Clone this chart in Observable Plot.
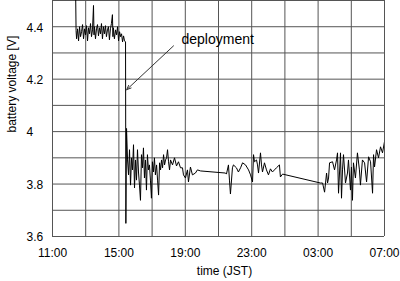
<!DOCTYPE html>
<html><head><meta charset="utf-8">
<script src="https://cdn.jsdelivr.net/npm/d3@7"></script>
<script src="https://cdn.jsdelivr.net/npm/@observablehq/plot@0.6"></script>
<style>body{margin:0;background:#fff}</style>
</head><body><div id="chart"></div>
<script>
// hours since 11:00 JST
const hours = [1.39,1.42,1.45,1.51,1.57,1.63,1.69,1.75,1.81,1.87,1.93,1.99,2.05,2.11,2.17,2.23,2.29,2.35,2.41,2.47,2.50,2.53,2.59,2.65,2.71,2.77,2.83,2.89,2.95,3.01,3.07,3.13,3.19,3.25,3.31,3.37,3.43,3.49,3.55,3.61,3.64,3.67,3.73,3.80,3.86,3.92,3.98,4.04,4.10,4.16,4.22,4.28,4.34,4.40,
4.42,4.46,4.52,4.58,4.64,4.70,4.76,4.82,4.88,4.94,5.00,5.06,5.12,5.18,5.24,5.30,5.36,5.42,5.48,5.54,5.60,5.66,5.72,5.78,5.84,5.90,5.96,6.02,6.08,6.14,6.20,6.27,6.33,6.39,6.45,6.51,6.57,6.63,6.69,6.75,6.81,6.87,6.93,6.99,7.05,7.11,7.23,7.35,7.47,7.59,7.71,7.83,7.89,8.01,8.13,8.19,8.31,8.43,8.61,8.73,8.92,
10.42,10.48,10.60,10.66,10.72,10.84,10.90,11.08,11.20,11.33,11.45,11.63,11.81,11.93,12.05,12.11,12.17,12.29,12.35,12.41,12.53,12.59,12.65,12.77,12.89,13.01,13.13,13.25,13.37,13.49,13.67,13.73,13.86,
16.14,16.27,16.39,16.51,16.57,16.63,16.69,16.87,16.99,17.11,17.17,17.23,17.35,17.41,17.47,17.53,17.65,17.77,17.83,17.95,18.01,18.07,18.13,18.25,18.37,18.49,18.55,18.67,18.80,18.92,19.04,19.16,19.28,19.34,19.40,19.52,19.64,19.76,19.88,20.00];
// battery voltage [V]
const volts = [4.55,4.385,4.354,4.392,4.346,4.400,4.362,4.381,4.408,4.354,4.392,4.369,4.404,4.346,4.396,4.373,4.412,4.362,4.388,4.481,4.369,4.400,4.354,4.392,4.408,4.365,4.396,4.373,4.412,4.354,4.400,4.373,4.404,4.362,4.388,4.400,4.350,4.392,4.412,4.446,4.362,4.396,4.354,4.388,4.369,4.400,4.346,4.381,4.362,4.373,4.342,4.365,4.346,4.342,
3.650,4.012,3.892,3.835,3.931,3.796,3.900,3.854,3.950,3.785,3.892,3.815,3.931,3.846,3.796,3.738,3.912,3.862,3.938,3.823,3.892,3.777,3.912,3.854,3.873,3.815,3.746,3.885,3.846,3.900,3.835,3.873,3.815,3.758,3.881,3.854,3.892,3.862,3.912,3.873,3.892,3.900,3.931,3.885,3.854,3.892,3.873,3.900,3.869,3.885,3.862,3.862,3.835,3.823,3.854,3.808,3.865,3.835,3.842,3.854,3.850,
3.842,3.838,3.873,3.815,3.762,3.862,3.873,3.862,3.846,3.862,3.881,3.873,3.854,3.835,3.808,3.912,3.885,3.892,3.873,3.842,3.919,3.873,3.846,3.881,3.854,3.835,3.858,3.846,3.854,3.862,3.873,3.827,3.838,
3.804,3.804,3.769,3.842,3.804,3.823,3.881,3.885,3.854,3.892,3.919,3.765,3.919,3.746,3.854,3.912,3.804,3.842,3.892,3.777,3.865,3.738,3.881,3.823,3.919,3.854,3.796,3.892,3.881,3.808,3.904,3.885,3.765,3.912,3.865,3.931,3.900,3.942,3.919,3.962];

const xTickHours = [0, 4, 8, 12, 16, 20];
const xTickLabels = ["11:00", "15:00", "19:00", "23:00", "03:00", "07:00"];
const xGridHours = [0, 2, 4, 6, 8, 10, 12, 14, 16, 18, 20];
const yTicks = [3.6, 3.8, 4, 4.2, 4.4];
const yTickLabels = ["3.6", "3.8", "4", "4.2", "4.4"];
const yGrid = [3.6, 3.7, 3.8, 3.9, 4.0, 4.1, 4.2, 4.3, 4.4, 4.5];
const annotationText = ["deployment"];
const annotationTextPos = [7.77, 4.35];          // hours, volts
const annotationArrow = [7.29, 4.327, 4.47, 4.16]; // from (h,v) to (h,v)

const data = hours.map((h, i) => ({h, v: volts[i]}));

const chart = Plot.plot({
  width: 400,
  height: 281,
  marginLeft: 52,
  marginRight: 16,
  marginTop: 0,
  marginBottom: 45,
  style: {fontFamily: "'Liberation Sans', Arial, sans-serif", fontSize: "12px", color: "#000", background: "#fff"},
  x: {domain: [0, 20]},
  y: {domain: [3.6, 4.5]},
  marks: [
    Plot.ruleY(yGrid, {stroke: "#555", strokeWidth: 1}),
    Plot.ruleX(xGridHours, {stroke: "#555", strokeWidth: 1}),
    Plot.line(data, {x: "h", y: "v", stroke: "#000", strokeWidth: 1, clip: true}),
    Plot.axisX({ticks: xTickHours, tickFormat: (d) => xTickLabels[xTickHours.indexOf(d)], tickSize: 0, tickPadding: 12, label: null, fontSize: 12}),
    Plot.axisY({ticks: yTicks, tickFormat: (d) => yTickLabels[yTicks.indexOf(d)], tickSize: 0, tickPadding: 26, textAnchor: "start", dy: 1, label: null, fontSize: 12}),
    Plot.text(["battery voltage [V]"], {frameAnchor: "left", rotate: -90, dx: -40, dy: 14, fontSize: 12, fill: "#000"}),
    Plot.text(["time (JST)"], {frameAnchor: "bottom", dy: 38, dx: 6, fontSize: 12, fill: "#000"}),
    Plot.text(annotationText, {x: annotationTextPos[0], y: annotationTextPos[1], textAnchor: "start", fontSize: 14, fill: "#000"}),
    Plot.arrow([annotationArrow], {x1: (d) => d[0], y1: (d) => d[1], x2: (d) => d[2], y2: (d) => d[3], stroke: "#333", strokeWidth: 1, headLength: 7, headAngle: 45})
  ]
});
document.getElementById("chart").appendChild(chart);
</script>
</body></html>
